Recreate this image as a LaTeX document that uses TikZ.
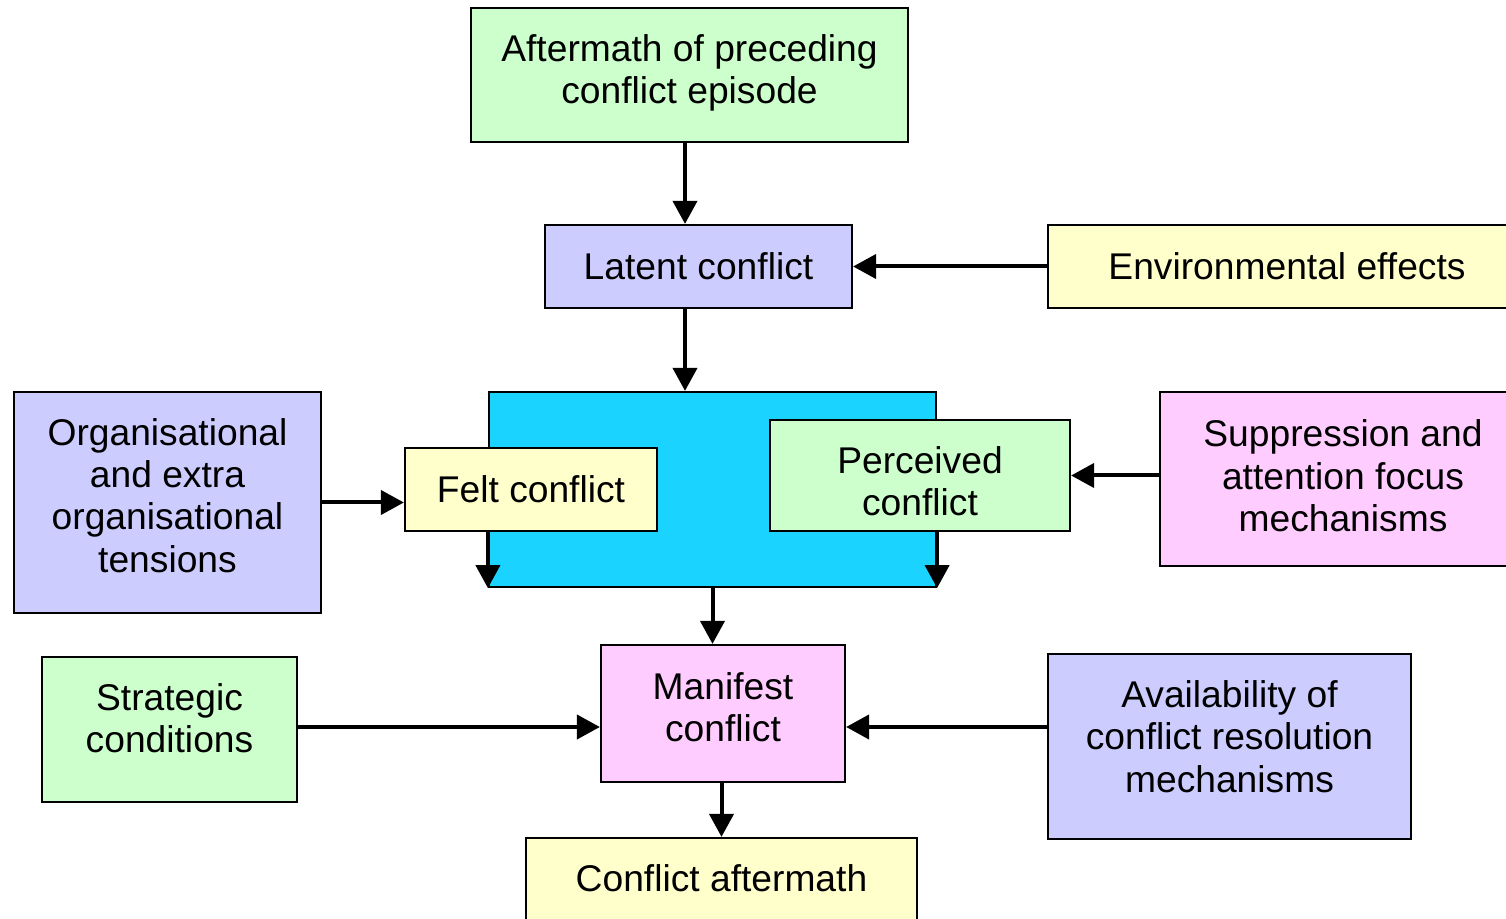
\documentclass[tikz,border=0pt]{standalone}
\usepackage{fontspec}
\setmainfont{Liberation Sans}
\usetikzlibrary{arrows.meta}
\definecolor{cgreen}{RGB}{204,255,204}
\definecolor{clav}{RGB}{204,204,255}
\definecolor{cyellow}{RGB}{255,255,204}
\definecolor{cpink}{RGB}{255,204,255}
\definecolor{ccyan}{RGB}{26,212,255}
\begin{document}
\begin{tikzpicture}[x=0.5pt,y=-0.5pt,
  box/.style={draw=black, line width=1.1pt, inner sep=0pt, align=center,
    font=\fontsize{18.6}{21.2}\selectfont},
  txt/.style={align=center, inner sep=0pt, font=\fontsize{18.6}{21.2}\selectfont},
  arr/.style={line width=2pt, -{Triangle[length=11.5pt,width=12pt]}}]
\useasboundingbox (0,0) rectangle (1506,919);
\clip (0,0) rectangle (1506,919);
\coordinate (x1) at (685,0);
\coordinate (y2) at (0,727);
\node[box, fill=cgreen, minimum width=218.5pt, minimum height=67pt,
  label={[txt,yshift=1pt]center:Aftermath of preceding\\conflict episode}] (aft) at (689.5,75) {};
\node[box, fill=clav, minimum width=153.5pt, minimum height=41.5pt] (latent) at (698.5,266.5) {Latent conflict};
\node[box, fill=cyellow, minimum width=239pt, minimum height=41.5pt] (env) at (1287,266.5) {Environmental effects};
\node[box, fill=ccyan, minimum width=223.5pt, minimum height=97.5pt] (blue) at (712.5,489.5) {};
\node[box, fill=cyellow, minimum width=126pt, minimum height=41.5pt] (felt) at (531,489.5) {Felt conflict};
\node[box, fill=cgreen, minimum width=150pt, minimum height=55.5pt,
  label={[txt,yshift=-3pt]center:Perceived\\conflict}] (perc) at (920,475.5) {};
\node[box, fill=clav, minimum width=153.5pt, minimum height=110.5pt,
  label={[txt,yshift=3.5pt]center:Organisational\\and extra\\organisational\\tensions}] (org) at (167.5,502.5) {};
\node[box, fill=cpink, minimum width=183pt, minimum height=87pt,
  label={[txt,yshift=1.5pt]center:Suppression and\\attention focus\\mechanisms}] (supp) at (1343,479) {};
\node[box, fill=cgreen, minimum width=127.5pt, minimum height=72.5pt,
  label={[txt,yshift=5.5pt]center:Strategic\\conditions}] (strat) at (169.5,729.5) {};
\node[box, fill=cpink, minimum width=122pt, minimum height=68.5pt,
  label={[txt,yshift=3pt]center:Manifest\\conflict}] (man) at (723,713.5) {};
\node[box, fill=clav, minimum width=181.5pt, minimum height=92.5pt,
  label={[txt,yshift=5pt]center:Availability of\\conflict resolution\\mechanisms}] (avail) at (1229.5,746.5) {};
\node[box, fill=cyellow, minimum width=195.5pt, minimum height=43.5pt,
  label={[txt,yshift=1.5pt]center:Conflict aftermath}] (ca) at (721.5,881.5) {};
\draw[arr] (aft.south -| x1) -- (latent.north -| x1);
\draw[arr] (env.west) -- (env.west -| latent.east);
\draw[arr] (latent.south -| x1) -- (blue.north -| x1);
\draw[arr] (org.east) -- (org.east -| felt.west);
\draw[arr] (felt.south -| blue.west) -- (blue.south west);
\draw[arr] (perc.south -| blue.east) -- (blue.south east);
\draw[arr] (supp.west |- perc.east) -- (perc.east);
\draw[arr] (blue.south) -- (man.north -| blue.south);
\draw[arr] (strat.east |- y2) -- (man.west |- y2);
\draw[arr] (avail.west |- y2) -- (man.east |- y2);
\draw[arr] (man.south -| ca.north) -- (ca.north);
\end{tikzpicture}
\end{document}
